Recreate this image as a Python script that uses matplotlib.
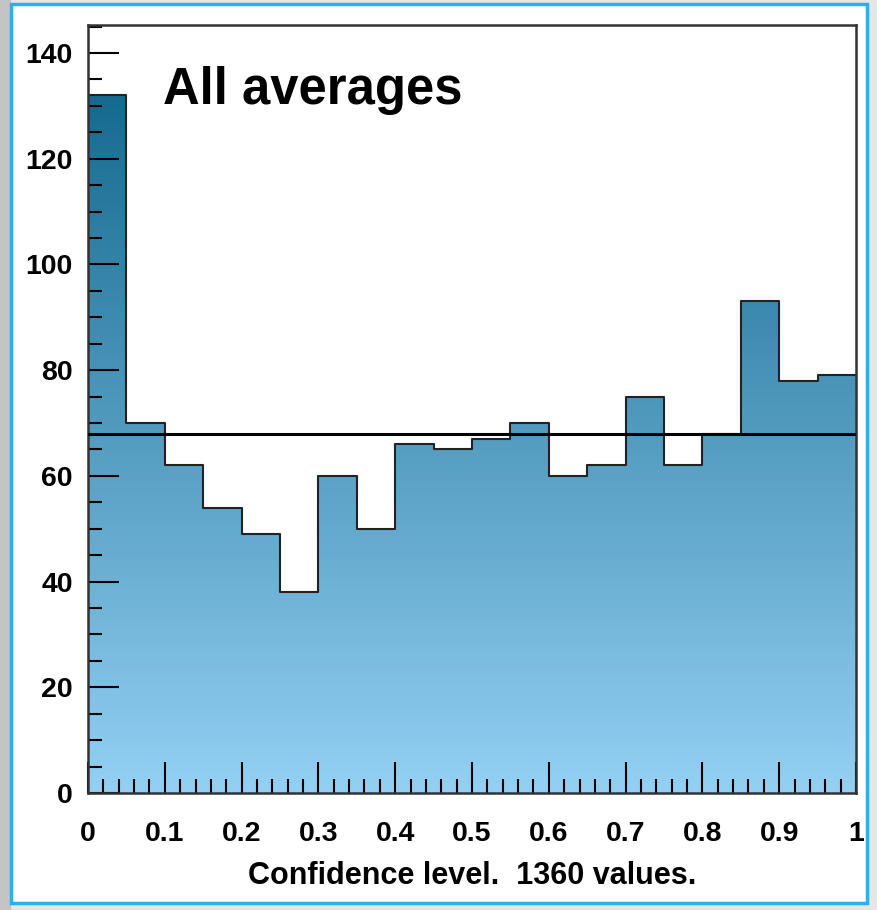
import numpy as np
import matplotlib.pyplot as plt
from matplotlib.patches import Rectangle, Polygon
from matplotlib.colors import LinearSegmentedColormap
from matplotlib.ticker import MultipleLocator

plt.rcParams['font.family'] = ['Liberation Sans', 'DejaVu Sans']

# 20 bins of confidence level, 0..1
bin_edges = np.linspace(0, 1, 21)
counts = [132, 70, 62, 54, 49, 38, 60, 50, 66, 65,
          67, 70, 60, 62, 75, 62, 68, 93, 78, 79]
mean_level = 68
title = "All averages"
xlabel = "Confidence level.  1360 values."

C_TOP = "#0f6489"
C_BOT = "#93d0f4"


def main():
    fig = plt.figure(figsize=(8.78, 9.10), dpi=100)
    fig.patch.set_facecolor("#e6e6e6")
    # page-like frame
    fig.patches.append(Rectangle((0, 0), 10 / 878, 1, transform=fig.transFigure,
                                 color="#c4c4c4", zorder=-10))
    fig.patches.append(Rectangle((11 / 878, 7 / 910), 856 / 878, 899 / 910,
                                 transform=fig.transFigure, facecolor="white",
                                 edgecolor="#2bb0ec", lw=2.5, zorder=-10))

    ax = fig.add_axes([88 / 878, 1 - 793 / 910, 768 / 878, 768 / 910])
    ax.set_facecolor("none")
    ymax = 145.3

    # outline of histogram, used to clip the gradient fill
    xs = np.repeat(bin_edges, 2)
    ys = np.concatenate([[0], np.repeat(counts, 2), [0]])
    poly = Polygon(np.column_stack([xs, ys]), closed=True, facecolor="none",
                   edgecolor="none")
    ax.add_patch(poly)

    cmap = LinearSegmentedColormap.from_list("grad", [C_BOT, C_TOP])
    grad = np.linspace(0, 1, 256).reshape(-1, 1)
    im = ax.imshow(grad, cmap=cmap, aspect="auto", origin="lower",
                   extent=[0, 1, 0, 140], zorder=1)
    im.set_clip_path(poly)
    ax.set_xlim(0, 1)
    ax.set_ylim(0, ymax)

    ax.step(bin_edges, list(counts) + [counts[-1]], where="post",
            color="#222222", lw=1.5, zorder=2)
    ax.axhline(mean_level, color="black", lw=2.2, zorder=3)

    ax.xaxis.set_major_locator(MultipleLocator(0.1))
    ax.xaxis.set_minor_locator(MultipleLocator(0.02))
    ax.yaxis.set_major_locator(MultipleLocator(20))
    ax.yaxis.set_minor_locator(MultipleLocator(5))
    ax.tick_params(which="major", direction="in", length=22, width=1.5,
                   labelsize=20.5, top=False, right=False)
    ax.tick_params(which="minor", direction="in", length=10, width=1.5,
                   top=False, right=False)
    ax.tick_params(axis="x", which="major", pad=20)
    ax.tick_params(axis="y", which="major", pad=11)
    ax.set_xticks(np.arange(0, 1.01, 0.1))
    ax.set_xticklabels(["0"] + [f"{v:.1f}" for v in np.arange(0.1, 0.95, 0.1)] + ["1"])
    for lbl in ax.get_xticklabels() + ax.get_yticklabels():
        lbl.set_fontweight("bold")
    for sp in ax.spines.values():
        sp.set_linewidth(1.8)
        sp.set_color("#333333")

    ax.set_xlabel(xlabel, fontsize=22, fontweight="bold", labelpad=10)
    ax.text(0.098, 0.915, title, transform=ax.transAxes, fontsize=36.5,
            fontweight="bold", ha="left", va="center", zorder=4)

    fig.savefig("out.png", dpi=100, facecolor=fig.get_facecolor())


if __name__ == "__main__":
    main()
